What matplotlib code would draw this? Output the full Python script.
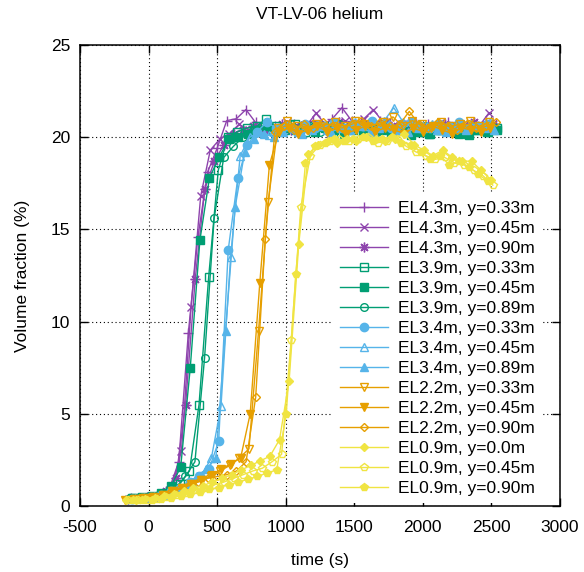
import numpy as np
import matplotlib.pyplot as plt

plt.rcParams['font.family'] = ['Liberation Sans', 'DejaVu Sans']
plt.rcParams['axes.unicode_minus'] = False

# sampling interval of the logger (s); each sensor has its own first sample time
step_s = 70

labels = [
    "EL4.3m, y=0.33m", "EL4.3m, y=0.45m", "EL4.3m, y=0.90m",
    "EL3.9m, y=0.33m", "EL3.9m, y=0.45m", "EL3.9m, y=0.89m",
    "EL3.4m, y=0.33m", "EL3.4m, y=0.45m", "EL3.4m, y=0.89m",
    "EL2.2m, y=0.33m", "EL2.2m, y=0.45m", "EL2.2m, y=0.90m",
    "EL0.9m, y=0.0m", "EL0.9m, y=0.45m", "EL0.9m, y=0.90m",
]
t_start = [-130, -110, -150, -122, -116, -152, -119, -102, -139,
           -108, -169, -129, -165, -150, -116]

el43_033 = [0.45, 0.45, 0.5, 0.6, 0.9, 2.4, 9.4, 14.6, 18.1, 19.4, 20.9, 21.0, 21.5,
            20.8, 20.5, 20.6, 20.4, 20.7, 20.5, 20.9, 20.6, 21.0, 21.6, 20.9, 20.8,
            20.6, 20.9, 20.7, 20.6, 20.8, 20.5, 20.7, 20.6, 20.8, 20.5, 20.7, 20.6,
            20.8, 20.7]
el43_045 = [0.45, 0.5, 0.5, 0.6, 1.0, 3.0, 10.8, 16.8, 19.3, 19.9, 20.2, 20.7, 20.4,
            20.6, 20.3, 20.5, 20.8, 20.4, 20.6, 21.3, 20.7, 20.5, 20.9, 20.6, 21.0,
            21.5, 20.8, 20.6, 20.7, 20.9, 20.5, 20.6, 20.8, 20.6, 20.7, 20.5, 20.6,
            21.3]
el43_090 = [0.4, 0.45, 0.5, 0.55, 0.8, 1.5, 5.5, 12.3, 17.2, 18.7, 19.6, 20.2, 20.4,
            20.6, 20.3, 20.5, 20.7, 20.4, 20.6, 20.5, 20.6, 20.2, 20.8, 20.5, 20.7,
            20.6, 20.4, 20.8, 20.6, 20.5, 20.7, 20.4, 20.6, 20.7, 20.5, 20.6, 20.8,
            20.6, 20.7]
el39_033 = [0.45, 0.45, 0.5, 0.6, 0.8, 1.2, 1.9, 5.5, 12.4, 18.2, 20.0, 20.3, 20.5,
            20.6, 21.0, 20.6, 20.4, 20.7, 20.3, 20.5, 20.6, 20.2, 20.5, 20.4, 20.6,
            20.3, 20.5, 20.2, 20.4, 20.6, 20.3, 20.2, 20.4, 20.5, 20.3, 20.2, 20.4,
            20.3, 20.5]
el39_045 = [0.45, 0.5, 0.55, 0.7, 1.1, 2.1, 7.5, 14.4, 17.8, 18.9, 19.9, 20.0, 20.2,
            20.4, 20.6, 20.3, 20.5, 20.4, 20.6, 20.3, 20.5, 20.4, 20.2, 20.5, 20.3,
            20.6, 20.4, 20.2, 20.4, 20.1, 20.3, 20.2, 20.4, 20.5, 20.2, 20.1, 20.4,
            20.3, 20.4]
el39_089 = [0.4, 0.45, 0.5, 0.55, 0.7, 1.0, 1.6, 2.4, 8.0, 15.6, 18.9, 19.5, 20.0,
            20.4, 20.6, 20.3, 20.5, 20.7, 20.4, 20.6, 20.3, 20.5, 20.7, 20.4, 20.6,
            20.5, 20.3, 20.6, 20.4, 20.5, 20.3, 20.6, 20.4, 20.5, 20.3, 20.4, 20.6,
            20.5, 20.4]
el34_033 = [0.4, 0.45, 0.5, 0.6, 0.8, 1.0, 1.3, 1.6, 2.0, 3.5, 13.9, 17.8, 19.6,
            20.3, 20.8, 20.5, 20.6, 20.4, 20.7, 20.5, 20.6, 20.8, 20.5, 20.7, 20.6,
            20.9, 20.6, 20.5, 20.7, 20.8, 20.6, 20.5, 20.7, 20.6, 20.8, 20.5, 20.6,
            20.7]
el34_045 = [0.45, 0.5, 0.55, 0.6, 0.8, 1.0, 1.3, 1.7, 2.6, 5.4, 13.5, 19.0, 20.0,
            20.3, 20.1, 20.4, 20.6, 20.3, 20.5, 20.7, 20.4, 20.6, 20.5, 20.8, 20.6,
            20.7, 20.9, 21.6, 20.8, 20.6, 20.5, 20.7, 20.4, 20.6, 20.5, 20.7, 20.6,
            20.8]
el34_089 = [0.4, 0.45, 0.5, 0.55, 0.7, 0.9, 1.2, 1.6, 2.0, 2.6, 9.5, 16.2, 19.2,
            19.9, 20.2, 20.0, 20.3, 20.5, 20.2, 20.4, 20.6, 20.3, 20.5, 20.4, 20.6,
            20.3, 20.5, 20.7, 20.4, 20.3, 20.5, 20.6, 20.4, 20.3, 20.5, 20.4, 20.6,
            20.5, 20.4]
el22_033 = [0.4, 0.45, 0.5, 0.6, 0.8, 1.0, 1.2, 1.4, 1.6, 1.9, 2.2, 2.6, 3.1,
            9.5, 16.5, 20.5, 20.9, 20.6, 20.4, 20.7, 20.5, 20.8, 20.6, 20.9, 20.7,
            20.5, 20.8, 21.1, 20.6, 20.9, 20.7, 20.5, 20.8, 20.6, 20.7, 20.9, 20.6,
            20.8]
el22_045 = [0.35, 0.4, 0.45, 0.5, 0.6, 0.8, 1.0, 1.2, 1.4, 1.7, 2.0, 2.3, 2.6,
            5.0, 12.1, 18.5, 20.3, 20.5, 20.2, 20.4, 20.6, 20.3, 20.5, 20.2, 20.4,
            20.6, 20.3, 20.5, 20.4, 20.2, 20.5, 20.3, 20.6, 20.4, 20.2, 20.5, 20.4,
            20.3, 20.5]
el22_090 = [0.4, 0.45, 0.5, 0.55, 0.7, 0.9, 1.1, 1.3, 1.5, 1.6, 1.7, 1.9, 2.4,
            5.9, 14.5, 20.3, 20.6, 20.4, 20.7, 20.5, 20.8, 20.6, 20.5, 20.7, 20.9,
            20.6, 20.8, 20.6, 20.7, 21.4, 20.7, 20.5, 20.8, 20.6, 20.4, 20.7, 20.5,
            20.6, 20.8]
el09_000 = [0.3, 0.35, 0.4, 0.45, 0.55, 0.65, 0.8, 0.95, 1.1, 1.3, 1.5, 1.7, 1.95,
            2.2, 2.45, 2.7, 3.6, 6.8, 14.2, 19.1, 19.6, 19.8, 19.7, 19.9, 19.8,
            20.0, 19.9, 19.8, 19.9, 20.2, 19.6, 19.3, 19.0, 19.3, 18.9, 18.7, 18.7,
            18.2, 17.7]
el09_045 = [0.3, 0.3, 0.35, 0.4, 0.5, 0.6, 0.7, 0.85, 1.0, 1.15, 1.3, 1.5, 1.7,
            1.9, 2.05, 2.4, 2.8, 9.0, 16.2, 19.0, 19.6, 19.8, 19.9, 19.8, 19.9,
            20.0, 19.7, 19.8, 19.9, 19.5, 19.2, 19.0, 18.8, 18.9, 18.6, 18.5, 18.2,
            17.9, 17.4]
el09_090 = [0.3, 0.3, 0.35, 0.4, 0.45, 0.55, 0.65, 0.75, 0.9, 1.0, 1.15, 1.3, 1.45,
            1.6, 1.8, 1.95, 5.0, 12.6, 18.6, 19.5, 19.7, 19.9, 19.8, 19.9, 20.0,
            19.8, 19.9, 20.0, 19.7, 19.6, 19.2, 18.8, 19.0, 18.5, 18.7, 18.4, 18.0,
            17.6]

series = [el43_033, el43_045, el43_090, el39_033, el39_045, el39_089,
          el34_033, el34_045, el34_089, el22_033, el22_045, el22_090,
          el09_000, el09_045, el09_090]

# one colour per elevation, gnuplot-like point types within each group
group_colors = ['#8e44ad', '#009e73', '#56b4e9', '#e69f00', '#f0e442']
markers = ['+', 'x', (8, 2, 0), 's', 's', 'o', 'o', '^', '^',
           'v', 'v', 'D', 'D', 'p', 'p']
filled = [True, True, True, False, True, False, True, False, True,
          False, True, False, True, False, True]
sizes = [7, 5.5, 7, 5.5, 5.5, 5.5, 6, 5.5, 5.5, 5.5, 5.5, 4.2, 4.2, 6, 6]

fig = plt.figure(figsize=(5.84, 5.72), dpi=100)
ax = fig.add_axes([80 / 584, 1 - 506 / 572, 480 / 584, 461 / 572])

for i, vals in enumerate(series):
    t = t_start[i] + step_s * np.arange(len(vals))
    c = group_colors[i // 3]
    ax.plot(t, vals, color=c, lw=1.0, marker=markers[i], ms=sizes[i],
            mfc=c if filled[i] else 'none', mec=c, mew=1.0, label=labels[i])

ax.set_xlim(-500, 3000)
ax.set_ylim(0, 25)
ax.set_xticks(np.arange(-500, 3001, 500))
ax.set_yticks(np.arange(0, 26, 5))
ax.grid(True, color='black', linestyle=(0, (1, 2.5)), linewidth=0.8)
ax.set_axisbelow(True)
ax.tick_params(direction='in', top=True, right=True, length=6, width=1,
               labelsize=12.5)
ax.tick_params(axis='x', pad=10)
ax.tick_params(axis='y', pad=7)
for s in ax.spines.values():
    s.set_linewidth(1.1)

ax.set_title('VT-LV-06 helium', fontsize=12.5, pad=19)
ax.set_xlabel('time (s)', fontsize=12.5, labelpad=13)
ax.set_ylabel('Volume fraction (%)', fontsize=12.5, labelpad=15)

ax.legend(loc='upper left', bbox_to_anchor=(333 / 584, 1 - 194 / 572),
          bbox_transform=fig.transFigure, frameon=True, fancybox=False,
          edgecolor='none', facecolor='white', framealpha=1, fontsize=12.5,
          handlelength=2.75, handletextpad=0.6, labelspacing=0.28,
          borderpad=0.4, borderaxespad=0, numpoints=1)

fig.savefig('out.png', dpi=100)
